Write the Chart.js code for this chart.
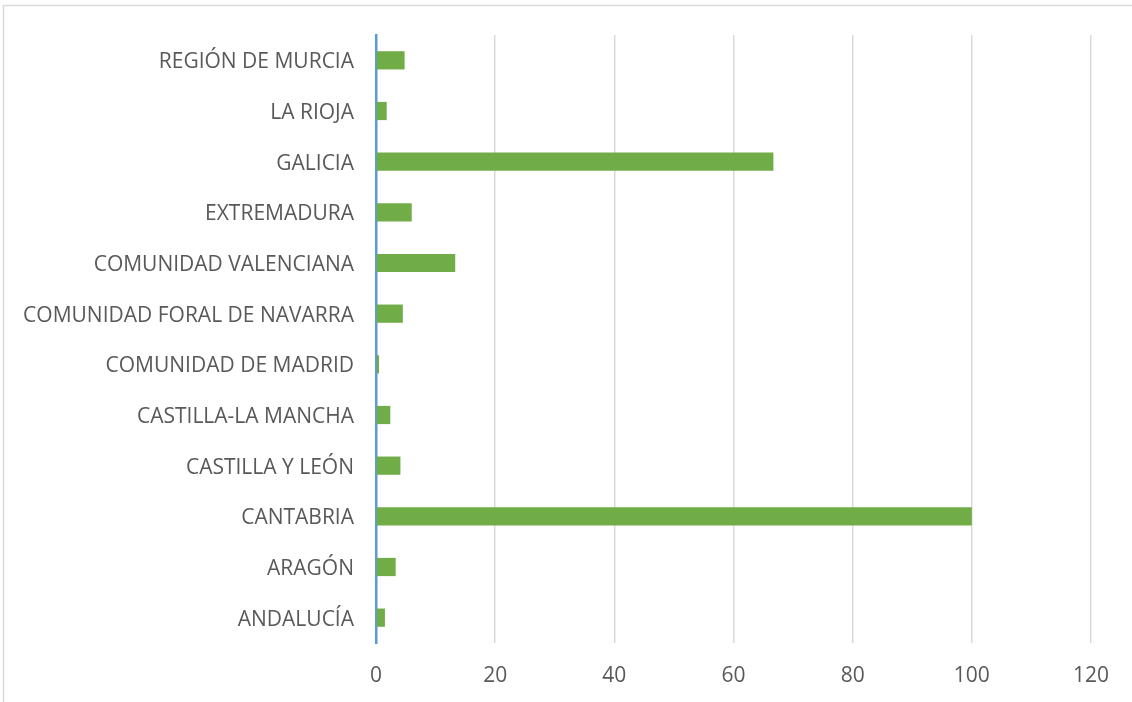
<!DOCTYPE html>
<html>
<head>
<meta charset="utf-8">
<script src="https://cdn.jsdelivr.net/npm/chart.js@4"></script>
<style>
  html,body{margin:0;padding:0;background:#fff;}
  #wrap{position:relative;width:1132px;height:702px;}
</style>
</head>
<body>
<div id="wrap"><canvas id="chart" width="1132" height="702"></canvas></div>
<script>
// ── DATA ──
const regiones = ['REGIÓN DE MURCIA','LA RIOJA','GALICIA','EXTREMADURA','COMUNIDAD VALENCIANA',
  'COMUNIDAD FORAL DE NAVARRA','COMUNIDAD DE MADRID','CASTILLA-LA MANCHA','CASTILLA Y LEÓN',
  'CANTABRIA','ARAGÓN','ANDALUCÍA'];
const valores = [4.8, 1.8, 66.7, 6.0, 13.3, 4.5, 0.5, 2.4, 4.1, 100, 3.3, 1.5];
const xTicks = [0, 20, 40, 60, 80, 100, 120];

const C = { bar:'#70AD47', axis:'#5B9BD5', grid:'#D9D9D9', text:'#595959', frame:'#D9D9D9' };

const framePlugin = {
  id:'frame',
  beforeDraw(chart){
    const ctx = chart.ctx;
    ctx.save();
    ctx.strokeStyle = C.frame; ctx.lineWidth = 1.5;
    ctx.beginPath();
    ctx.moveTo(3.5, 702); ctx.lineTo(3.5, 5.5); ctx.lineTo(1132, 5.5);
    ctx.stroke();
    ctx.restore();
  }
};

new Chart(document.getElementById('chart'), {
  type:'bar',
  data:{ labels:regiones, datasets:[{ data:valores, backgroundColor:C.bar, categoryPercentage:0.36, barPercentage:1 }] },
  options:{
    indexAxis:'y', responsive:false, animation:false,
    layout:{ padding:{ left:0, right:41, top:35, bottom:0 } },
    plugins:{ legend:{ display:false }, tooltip:{ enabled:false } },
    scales:{
      x:{ min:0, max:120, afterBuildTicks:s=>{ s.ticks = xTicks.map(v=>({value:v})); },
        grid:{ color:C.grid, lineWidth:1.5, drawTicks:false },
        border:{ display:false },
        ticks:{ color:C.text, font:{ family:"'Open Sans'", size:21 }, padding:20 },
        afterFit:s=>{ s.height = 702-643; } },
      y:{ grid:{ display:false, drawTicks:false },
        border:{ color:C.axis, width:2.5 },
        ticks:{ color:C.text, font:{ family:"'Open Sans'", size:21 }, padding:22, labelOffset:2 },
        afterFit:s=>{ s.width = 376; } }
    }
  },
  plugins:[framePlugin]
});
</script>
</body>
</html>
